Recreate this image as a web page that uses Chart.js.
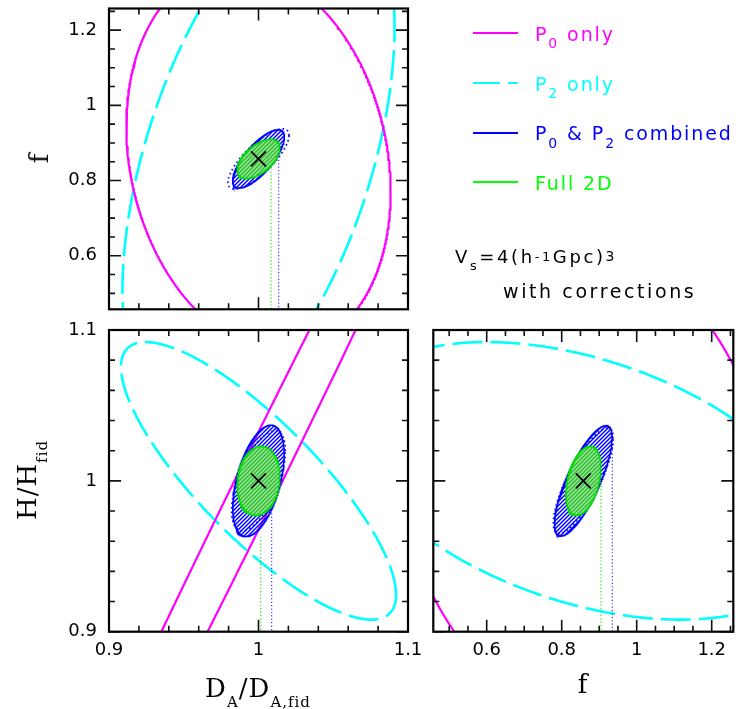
<!DOCTYPE html>
<html><head><meta charset="utf-8">
<script src="https://cdn.jsdelivr.net/npm/chart.js@4.4.1/dist/chart.umd.min.js"></script>
<style>
html,body{margin:0;padding:0;background:#fff;}
#wrap{position:relative;width:747px;height:709px;overflow:hidden;background:#fff;}
canvas{position:absolute;left:0;top:0;}
.t{position:absolute;white-space:nowrap;}
.leg{font-family:'DejaVu Sans';font-size:19px;line-height:19px;letter-spacing:1.9px;}
.lsub{font-size:14px;position:relative;top:7.6px;}
.ln{position:absolute;height:2px;}
.ax{font-family:'DejaVu Serif';font-size:26px;line-height:26px;letter-spacing:1px;color:#000;}
.axsub{font-size:15px;position:relative;top:10.5px;}
.note{font-family:'DejaVu Sans';color:#000;letter-spacing:2.6px;}
</style></head>
<body><div id="wrap">
<canvas id="cTL" width="747" height="709"></canvas>
<canvas id="cBL" width="747" height="709"></canvas>
<canvas id="cBR" width="747" height="709"></canvas>

<div class="ln" style="left:473px;top:32px;width:45px;background:#ff00ff"></div>
<div class="t leg" style="left:535px;top:24.6px;color:#ff00ff">P<span class="lsub">0</span> only</div>
<div class="ln" style="left:473px;top:82px;width:27px;background:#00ffff"></div>
<div class="ln" style="left:508px;top:82px;width:10px;background:#00ffff"></div>
<div class="t leg" style="left:535px;top:74.6px;color:#00ffff">P<span class="lsub">2</span> only</div>
<div class="ln" style="left:473px;top:132px;width:45px;background:#0000ff"></div>
<div class="t leg" style="left:535px;top:124px;color:#0000ff">P<span class="lsub">0</span> &amp; P<span class="lsub">2</span> combined</div>
<div class="ln" style="left:473px;top:181px;width:45px;background:#00ff00"></div>
<div class="t leg" style="left:535px;top:173.6px;color:#00ff00">Full 2D</div>

<div class="t note" style="left:455px;top:248px;font-size:18px;line-height:18px;">V<span style="font-size:13px;position:relative;top:7px;">s</span>=4(h<span style="font-size:13px;position:relative;top:-2px;">-1</span>Gpc)<span style="font-size:14px;position:relative;top:-2px;">3</span></div>
<div class="t note" style="left:503px;top:282px;font-size:19px;line-height:19px;">with corrections</div>

<div class="t ax" style="left:108px;width:300px;top:674.5px;text-align:center;">D<span class="axsub">A</span>/D<span class="axsub">A,fid</span></div>
<div class="t ax" style="left:433px;width:300px;top:671px;text-align:center;">f</div>
<div class="t ax" style="left:29px;top:480px;transform:translate(-50%,-50%) rotate(-90deg);">H/H<span class="axsub">fid</span></div>
<div class="t ax" style="left:39px;top:158px;transform:translate(-50%,-50%) rotate(-90deg);">f</div>
</div>
<script>
// ---- fiducial values ----
const fidDA = 1.0, fidH = 1.0, fidF = 0.8576;
// ---- axis ranges ----
const daRange = [0.9, 1.1];
const hRange = [0.9, 1.1];
const fRange = [0.4576, 1.2576];
// ---- ticks ----
const daMajor = [0.9, 1.0, 1.1];
const daLabels = ['0.9', '1', '1.1'];
const daMinor = [0.92, 0.94, 0.96, 0.98, 1.02, 1.04, 1.06, 1.08];
const hMajor = [0.9, 1.0, 1.1];
const hLabels = ['0.9', '1', '1.1'];
const hMinor = [0.92, 0.94, 0.96, 0.98, 1.02, 1.04, 1.06, 1.08];
const fMajor = [0.6, 0.8, 1.0, 1.2];
const fLabels = ['0.6', '0.8', '1', '1.2'];
const fMinor = [0.5, 0.55, 0.65, 0.7, 0.75, 0.85, 0.9, 0.95, 1.05, 1.1, 1.15, 1.25];
// ---- contours: P0 only, P2 only, P0&P2 combined, Full 2D, combined (dotted) ----
const contourNames = ['P0 only', 'P2 only', 'P0 & P2 combined', 'Full 2D', 'P0 & P2 combined (dotted)'];
// top-left panel (D_A vs f): projected half-widths and correlation
const tlHalfDA = [0.0884, 0.091, 0.0173, 0.0143, 0.0204];
const tlHalfF  = [0.51, 0.70, 0.0775, 0.052, 0.080];
const tlCorr   = [-0.17, 0.50, 0.75, 0.56, 0.78];
// bottom-left panel (D_A vs H)
const blHalfDA = [0.174, 0.092, 0.0172, 0.01425, 0.018];
const blHalfH  = [0.35, 0.092, 0.0369, 0.0229, 0.033];
const blCorr   = [0.9957, -0.82, 0.48, 0.12, 0.60];
// bottom-right panel (f vs H)
const brHalfF  = [0.51, 0.63, 0.0769, 0.0467, 0.080];
const brHalfH  = [0.17, 0.092, 0.0366, 0.0229, 0.035];
const brCorr   = [-0.20, -0.41, 0.78, 0.38, 0.80];
// dotted marker lines (Full 2D, combined): x position and starting y value
const tlMarkX = [1.0084, 1.0135], tlMarkFrom = [0.8414, 0.8733];
const blMarkX = [1.0015, 1.0088], blMarkFrom = [0.963, 0.9785];
const brMarkX = [0.9048, 0.935],  brMarkFrom = [0.9991, 1.0226];

function ellipse(cx, cy, hx, hy, rho) {
  const n = 720, s = Math.sqrt(1 - rho * rho), pts = [];
  for (let i = 0; i <= n; i++) {
    const t = 2 * Math.PI * i / n;
    pts.push({x: cx + hx * Math.cos(t), y: cy + hy * (rho * Math.cos(t) + s * Math.sin(t))});
  }
  return pts;
}
function hatch(ctx, bg, fg, lw) {
  const c = document.createElement('canvas'); c.width = 4; c.height = 4;
  const g = c.getContext('2d');
  if (bg) { g.fillStyle = bg; g.fillRect(0, 0, 4, 4); }
  g.strokeStyle = fg; g.lineWidth = lw;
  g.beginPath();
  g.moveTo(-1, 5); g.lineTo(5, -1);
  g.moveTo(-1, 1); g.lineTo(1, -1);
  g.moveTo(3, 5); g.lineTo(5, 3);
  g.stroke();
  return ctx.createPattern(c, 'repeat');
}
const framePlugin = {
  id: 'frame',
  afterDatasetsDraw(chart, args, o) {
    const {ctx, chartArea: a} = chart;
    const x = chart.scales.x, y = chart.scales.y;
    ctx.save();
    ctx.strokeStyle = '#111'; ctx.lineWidth = 1.6;
    ctx.beginPath();
    const tx = (vals, len) => vals.forEach(v => {
      const p = x.getPixelForValue(v);
      ctx.moveTo(p, a.bottom); ctx.lineTo(p, a.bottom - len);
      ctx.moveTo(p, a.top); ctx.lineTo(p, a.top + len);
    });
    const ty = (vals, len) => vals.forEach(v => {
      const p = y.getPixelForValue(v);
      ctx.moveTo(a.left, p); ctx.lineTo(a.left + len, p);
      ctx.moveTo(a.right, p); ctx.lineTo(a.right - len, p);
    });
    tx(o.xMajor, 12); tx(o.xMinor, 6); ty(o.yMajor, 12); ty(o.yMinor, 6);
    ctx.stroke();
    ctx.strokeStyle = '#000'; ctx.lineWidth = 2.2;
    ctx.strokeRect(a.left, a.top, a.right - a.left, a.bottom - a.top);
    ctx.restore();
  }
};
const tickFont = {family: 'DejaVu Sans', size: 18};
function axis(range, major, labels, show, pos, size) {
  return {
    type: 'linear', position: pos, min: range[0], max: range[1], display: show,
    grid: {display: false, drawTicks: false}, border: {display: false},
    ticks: {display: show, font: tickFont, color: '#000', padding: pos === 'left' ? 12 : 7.5,
      autoSkip: false, maxRotation: 0, minRotation: 0,
      callback: (v, i) => labels[i]},
    afterBuildTicks: s => { s.ticks = major.map(v => ({value: v})); },
    afterFit: s => {
      if (pos === 'left') s.width = size; else s.height = size;
      s.paddingLeft = 0; s.paddingRight = 0; s.paddingTop = 0; s.paddingBottom = 0;
    }
  };
}
function build(id, cx, cy, hx, hy, rho, markX, markFrom, yMin, xAx, yAx, pad, ticks) {
  const canvas = document.getElementById(id);
  const ctx = canvas.getContext('2d');
  const blueHatch = hatch(ctx, null, '#0000ff', 1.45);
  const greenHatch = hatch(ctx, '#90ea90', '#38b838', 1.4);
  const ell = i => ellipse(cx, cy, hx[i], hy[i], rho[i]);
  const line = {showLine: true, pointRadius: 0, pointHoverRadius: 0, fill: false};
  new Chart(ctx, {
    type: 'scatter',
    data: {datasets: [
      {label: 'fiducial', data: [{x: cx, y: cy}], showLine: false, pointStyle: 'crossRot',
        pointRadius: 10.5, pointBorderWidth: 1.8, pointBorderColor: '#000', pointBackgroundColor: '#000'},
      Object.assign({label: 'Full 2D marker', data: [{x: markX[0], y: markFrom[0]}, {x: markX[0], y: yMin}],
        borderColor: '#22dd22', borderWidth: 1.2, borderDash: [1.2, 2.2]}, line),
      Object.assign({label: 'combined marker', data: [{x: markX[1], y: markFrom[1]}, {x: markX[1], y: yMin}],
        borderColor: '#3333ff', borderWidth: 1.2, borderDash: [1.2, 2.2]}, line),
      Object.assign({}, line, {label: contourNames[3], data: ell(3), borderColor: '#00dd00', borderWidth: 1.6,
        backgroundColor: greenHatch, fill: 'shape'}),
      Object.assign({label: contourNames[4], data: ell(4), borderColor: '#0000ff', borderWidth: 1.7, borderDash: [1.5, 3]}, line),
      Object.assign({}, line, {label: contourNames[2], data: ell(2), borderColor: '#0000ff', borderWidth: 1.6,
        backgroundColor: blueHatch, fill: 'shape'}),
      Object.assign({label: contourNames[0], data: ell(0), borderColor: '#ff00ff', borderWidth: 2.2}, line),
      Object.assign({label: contourNames[1], data: ell(1), borderColor: '#00ffff', borderWidth: 2.6, borderDash: [30, 8]}, line)
    ]},
    options: {
      responsive: false, animation: false, events: [], devicePixelRatio: 1,
      layout: {padding: pad, autoPadding: false},
      scales: {x: xAx, y: yAx},
      plugins: {legend: {display: false}, tooltip: {enabled: false}, frame: ticks}
    },
    plugins: [framePlugin]
  });
}
// top-left: D_A (x) vs f (y)
build('cTL', fidDA, fidF, tlHalfDA, tlHalfF, tlCorr, tlMarkX, tlMarkFrom, fRange[0],
  axis(daRange, daMajor, daLabels, false, 'bottom', 0),
  axis(fRange, fMajor, fLabels, true, 'left', 60),
  {left: 49, right: 339, top: 8.5, bottom: 399.7},
  {xMajor: daMajor, xMinor: daMinor, yMajor: fMajor, yMinor: fMinor});
// bottom-left: D_A (x) vs H (y)
build('cBL', fidDA, fidH, blHalfDA, blHalfH, blCorr, blMarkX, blMarkFrom, hRange[0],
  axis(daRange, daMajor, daLabels, true, 'bottom', 40),
  axis(hRange, hMajor, hLabels, true, 'left', 60),
  {left: 49, right: 339, top: 330, bottom: 37.3},
  {xMajor: daMajor, xMinor: daMinor, yMajor: hMajor, yMinor: hMinor});
// bottom-right: f (x) vs H (y)
build('cBR', fidF, fidH, brHalfF, brHalfH, brCorr, brMarkX, brMarkFrom, hRange[0],
  axis(fRange, fMajor, fLabels, true, 'bottom', 40),
  axis(hRange, hMajor, hLabels, false, 'left', 0),
  {left: 433.3, right: 13.7, top: 330, bottom: 37.3},
  {xMajor: fMajor, xMinor: fMinor, yMajor: hMajor, yMinor: hMinor});
</script>
</body></html>
